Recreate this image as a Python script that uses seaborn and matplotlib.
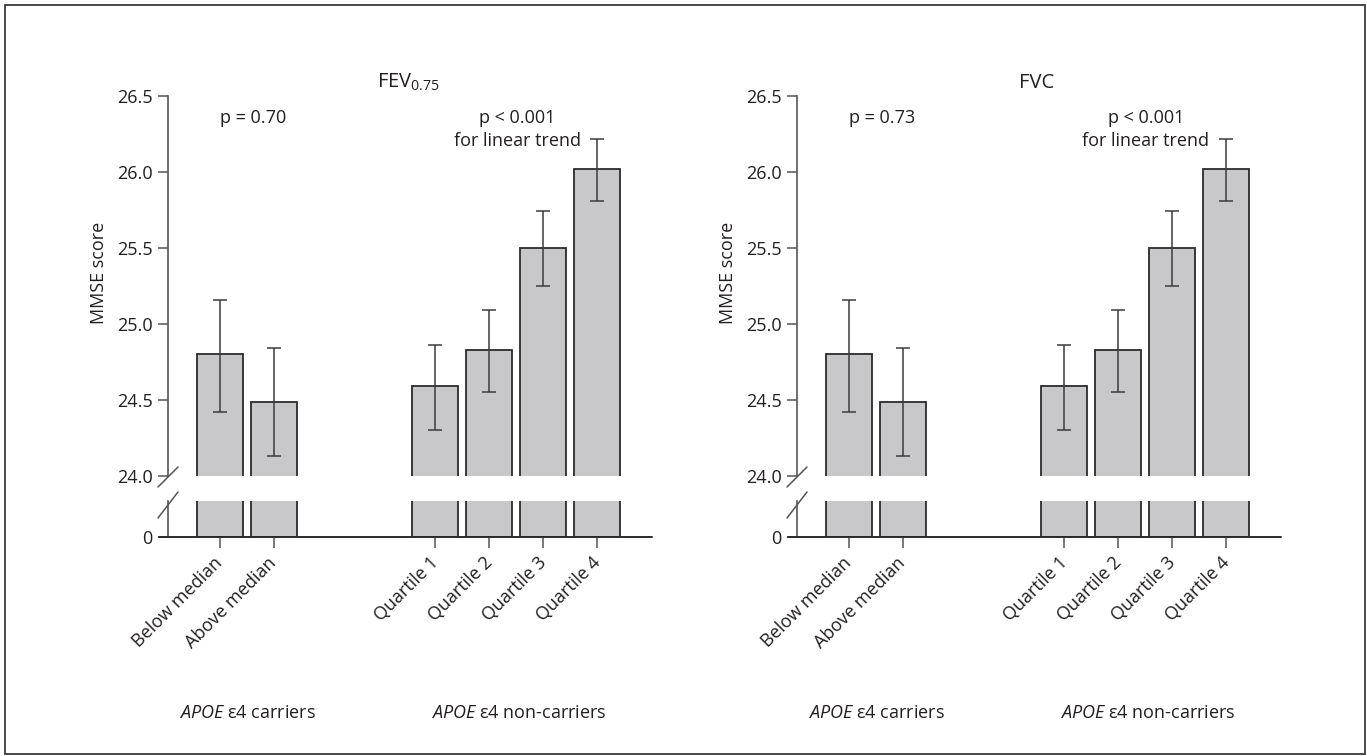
import numpy as np
import pandas as pd
import matplotlib.pyplot as plt
import seaborn as sns
from matplotlib.lines import Line2D
from matplotlib.patches import Rectangle

# Données
groups = ["Below median", "Above median", "Quartile 1", "Quartile 2", "Quartile 3", "Quartile 4"]
positions = [0, 1, 4, 5, 6, 7]

fev_mean = [24.80, 24.49, 24.59, 24.83, 25.50, 26.02]
fev_low = [24.42, 24.13, 24.30, 24.55, 25.25, 25.81]
fev_high = [25.16, 24.84, 24.86, 25.09, 25.745, 26.22]

fvc_mean = [24.80, 24.49, 24.59, 24.83, 25.50, 26.02]
fvc_low = [24.42, 24.13, 24.30, 24.55, 25.25, 25.81]
fvc_high = [25.16, 24.84, 24.86, 25.09, 25.745, 26.22]

panel_titles = ["FEV$_{0.75}$", "FVC"]
p_carriers = ["p = 0.70", "p = 0.73"]
p_trend = ["p < 0.001", "for linear trend"]
group_labels = ["$\\it{APOE}$ ε4 carriers", "$\\it{APOE}$ ε4 non-carriers"]
y_ticks = [24.0, 24.5, 25.0, 25.5, 26.0, 26.5]

sns.set_style("ticks")
plt.rcParams["font.family"] = ["Open Sans", "DejaVu Sans"]
plt.rcParams["mathtext.fontset"] = "custom"
plt.rcParams["mathtext.rm"] = "Open Sans"
plt.rcParams["mathtext.it"] = "Open Sans:italic"
plt.rcParams["mathtext.bf"] = "Open Sans:bold"

W, H = 1367, 756
fig = plt.figure(figsize=(W / 100, H / 100), dpi=100)
fs = 13
txt_col = "#231f20"
bar_col = "#c8c8ca"
edge_col = "#2b2b2b"
axis_col = "#555555"


def fx(px):
    return px / W


def fy(py):
    return 1 - py / H


data = [(fev_mean, fev_low, fev_high), (fvc_mean, fvc_low, fvc_high)]

for i, (mean, low, high) in enumerate(data):
    dx = 629 * i
    df = pd.DataFrame({"pos": positions, "mean": mean, "low": low, "high": high})

    ax_top = fig.add_axes([fx(167.7 + dx), fy(476), (652 - 167.7) / W, (476 - 96) / H])
    ax_bot = fig.add_axes([fx(167.7 + dx), fy(537), (652 - 167.7) / W, (537 - 501) / H])

    for ax in (ax_top, ax_bot):
        sns.barplot(data=df, x="pos", y="mean", native_scale=True, orient="x",
                    width=0.852, color=bar_col, saturation=1, edgecolor=edge_col,
                    linewidth=1.3, errorbar=None, ax=ax)
        ax.set_xlim(-0.96, 8.01)
        ax.set_xlabel("")
        ax.set_ylabel("")
        ax.patch.set_alpha(0)
        for s in ["top", "right", "bottom"]:
            ax.spines[s].set_visible(False)
        ax.spines["left"].set_color(axis_col)
        ax.spines["left"].set_linewidth(1.2)
        ax.tick_params(axis="y", direction="out", length=7.2, width=1.1,
                       color=axis_col, labelsize=fs, labelcolor=txt_col, pad=3.5)

    # partie haute (24 - 26.5)
    df["err_lo"] = df["mean"] - df["low"]
    df["err_hi"] = df["high"] - df["mean"]
    ax_top.errorbar(df["pos"], df["mean"], yerr=[df["err_lo"], df["err_hi"]],
                    fmt="none", ecolor="#3c3c3c", elinewidth=1.1, capsize=4.7,
                    capthick=1.1, zorder=5)
    ax_top.set_ylim(24, 26.5)
    ax_top.set_yticks(y_ticks)
    ax_top.set_yticklabels([f"{v:.1f}" for v in y_ticks])
    ax_top.set_xticks([])
    ax_top.set_ylabel("MMSE score", fontsize=fs, color=txt_col)
    ax_top.yaxis.set_label_coords(-0.124, 0.534)

    # partie basse (0)
    ax_bot.set_ylim(0, 1)
    ax_bot.set_yticks([0])
    ax_bot.set_yticklabels(["0"])
    ax_bot.plot([-1.12, 8.01], [0, 0], color="#2b2b2b", lw=1.4, clip_on=False, zorder=6)
    ax_bot.set_xticks(positions)
    ax_bot.set_xticklabels(groups, rotation=45, ha="right", va="center",
                           rotation_mode="anchor", fontsize=fs, color=txt_col)
    ax_bot.tick_params(axis="x", direction="out", length=7.7, width=1.1,
                       color=axis_col, pad=9)

    # marques de rupture d'axe
    for cx, cy, h in [(168 + dx, 477, 20), (168 + dx, 505, 26)]:
        fig.add_artist(Line2D([fx(cx - 10), fx(cx + 10)], [fy(cy + h / 2), fy(cy - h / 2)],
                              transform=fig.transFigure, color=axis_col, lw=1.1))

    # textes
    fig.text(fx(408 + dx), fy(88), panel_titles[i], ha="center", va="baseline",
             fontsize=fs + 1.5, color=txt_col)
    fig.text(fx(253 + dx), fy(118), p_carriers[i], ha="center", va="center",
             fontsize=fs, color=txt_col)
    fig.text(fx(517 + dx), fy(118), p_trend[0], ha="center", va="center",
             fontsize=fs, color=txt_col)
    fig.text(fx(517 + dx), fy(141), p_trend[1], ha="center", va="center",
             fontsize=fs, color=txt_col)
    fig.text(fx(247 + dx), fy(713), group_labels[0], ha="center", va="center",
             fontsize=fs, color=txt_col)
    fig.text(fx(519 + dx), fy(713), group_labels[1], ha="center", va="center",
             fontsize=fs, color=txt_col)

# cadre
fig.add_artist(Rectangle((fx(5), fy(754)), 1360 / W, 749 / H, transform=fig.transFigure,
                         fill=False, edgecolor="#3a3a3a", lw=1.3))

fig.savefig("out.png", dpi=100)
